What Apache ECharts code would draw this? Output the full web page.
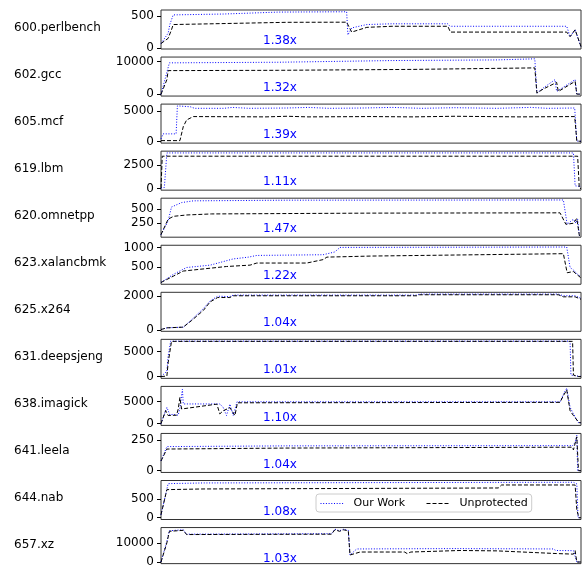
<!DOCTYPE html>
<html>
<head>
<meta charset="utf-8">
<script src="https://cdn.jsdelivr.net/npm/echarts@6/dist/echarts.min.js"></script>
<style>
  html, body { margin: 0; padding: 0; background: #fff; }
  #main { width: 585px; height: 568px; }
</style>
</head>
<body>
<div id="main"></div>
<script>
// benchmark names, speedup labels and y tick values per panel
var benchmarks = ['600.perlbench', '602.gcc', '605.mcf', '619.lbm', '620.omnetpp', '623.xalancbmk',
  '625.x264', '631.deepsjeng', '638.imagick', '641.leela', '644.nab', '657.xz'];
var speedups = ['1.38x', '1.32x', '1.39x', '1.11x', '1.47x', '1.22x', '1.04x', '1.01x', '1.10x', '1.04x', '1.08x', '1.03x'];
var yTicks = [[0, 500], [0, 10000], [0, 5000], [0, 2500], [250, 500], [500, 1000],
  [0, 2000], [0, 5000], [0, 5000], [0, 250], [0, 500], [0, 10000]];

// [time %, value]
var perlbenchOurs = [[0, 68], [1.7, 230], [2.1, 365], [2.9, 516], [15, 530], [28, 560], [44.2, 565], [44.5, 203], [45.4, 312], [49, 365], [55, 377], [68.3, 377], [68.8, 338], [96.6, 338], [97.4, 175], [98.6, 284], [100, 10]];
var perlbenchBase = [[0, 68], [1.7, 149], [2.5, 284], [2.9, 365], [30, 400], [44.2, 402], [45.4, 247], [49, 321], [55, 338], [68.3, 338], [68.9, 247], [96.6, 247], [97.4, 175], [98.6, 284], [100, 20]];
var gccOurs = [[0, 0], [0.4, 200], [2, 9600], [28, 9785], [55, 10300], [80, 10500], [89, 10830], [89.5, 370], [91, 1900], [93.8, 4460], [94.2, 860], [98.6, 4460], [99, 50], [100, 50]];
var gccBase = [[0, 0], [0.4, 100], [1.4, 4460], [1.7, 7230], [28, 7320], [60, 7600], [89, 8060], [89.5, 370], [91, 1600], [94.2, 3630], [94.6, 860], [98.6, 3940], [99, 50], [100, 50]];
var mcfOurs = [[0, 450], [0.5, 1270], [3.6, 1270], [3.9, 5850], [7, 5700], [8, 5450], [15, 5450], [17, 5600], [21, 5450], [30, 5500], [35, 5600], [40, 5450], [48, 5500], [55, 5600], [62, 5450], [70, 5550], [80, 5450], [88, 5600], [92, 5450], [98.5, 5500], [99, 100], [100, 50]];
var mcfBase = [[0, 165], [4.5, 165], [5.3, 2440], [6.1, 3550], [7.7, 4100], [25, 4050], [30, 4150], [35, 4050], [50, 4100], [60, 4050], [70, 4150], [85, 4050], [98.5, 4100], [99, 100], [100, 50]];
var lbmOurs = [[0, 50], [0.8, 100], [1.4, 3800], [98.2, 3800], [98.6, 275], [100, 200]];
var lbmBase = [[0, 50], [0.3, 3450], [99.2, 3450], [99.6, 0], [100, 0]];
var omnetppOurs = [[0, 54], [1.7, 291], [2.5, 530], [4.9, 607], [7.7, 637], [30, 648], [95.8, 652], [96.7, 232], [98.2, 321], [98.8, 250], [99.2, 321], [99.6, 40], [100, 40]];
var omnetppBase = [[0, 54], [1.7, 321], [3, 370], [6.1, 393], [12, 411], [50, 425], [95, 430], [96.4, 232], [98.2, 250], [99, 334], [99.6, 40], [100, 40]];
var xalancOurs = [[0, 100], [2.9, 305], [6.1, 484], [11.7, 545], [17.2, 705], [20.8, 750], [22.8, 794], [38.6, 812], [41.4, 884], [42.6, 1000], [96.6, 1010], [97.4, 484], [98.2, 420], [99.2, 305], [100, 250]];
var xalancBase = [[0, 100], [2.9, 260], [5.3, 393], [9.3, 439], [15.6, 510], [21.2, 545], [22.8, 599], [34.7, 599], [38.6, 687], [39.5, 751], [50, 778], [95.8, 839], [96.7, 350], [98.2, 380], [100, 217]];
var x264Ours = [[0, 20], [1.4, 119], [5.3, 160], [7.3, 600], [10.1, 1250], [11.7, 1700], [13.5, 1975], [16.4, 1950], [17.2, 2040], [60.9, 2040], [61.5, 2100], [94.6, 2100], [95.8, 2000], [98.6, 2000], [100, 1850]];
var x264Base = [[0, 20], [1.4, 119], [5.3, 160], [7.3, 551], [10.1, 1144], [11.7, 1642], [13.5, 1898], [16.4, 1898], [17.2, 2000], [60.9, 2000], [61.5, 2060], [94.6, 2060], [95.8, 1939], [98.6, 1939], [100, 1797]];
var deepsjengOurs = [[0, 0], [1.4, 1060], [1.7, 4060], [2.3, 7050], [97.4, 7050], [97.6, 300], [99.5, 50], [100, 50]];
var deepsjengBase = [[0, 0], [1.4, 100], [1.7, 2740], [2.5, 7000], [98, 7000], [98.2, 300], [99.5, 0], [100, 0]];
var imagickOurs = [[0, 0], [1.4, 3670], [2.1, 2000], [3, 2100], [4.1, 1900], [4.5, 3500], [5.1, 7740], [5.3, 4440], [14, 4440], [14.8, 3670], [15.6, 1830], [16.4, 4400], [17.2, 1830], [18.1, 4920], [95, 4920], [95.8, 6600], [96.6, 8000], [97.4, 3670], [98.2, 2200], [99.4, 220], [100, 200]];
var imagickBase = [[0, 0], [1.1, 2930], [1.7, 1830], [3.7, 1900], [4.1, 3300], [4.5, 5900], [4.9, 3300], [13.3, 4400], [14, 2200], [14.8, 2900], [16.4, 3600], [17.6, 1830], [18.2, 4700], [95, 4800], [95.8, 6300], [96.6, 7600], [97.4, 2900], [98.2, 1830], [99.5, 220], [100, 200]];
var leelaOurs = [[0, 79], [1.4, 197], [30, 203], [98, 205], [98.6, 230], [99, 290], [99.2, 0], [100, 0]];
var leelaBase = [[0, 79], [1.4, 177], [30, 185], [97.9, 192], [98.2, 170], [99, 277], [99.4, 0], [100, 0]];
var nabOurs = [[0, 80], [1.7, 908], [10, 926], [50, 935], [98.2, 944], [99, 900], [99.3, 0], [100, 0]];
var nabBase = [[0, 80], [1.4, 748], [10, 766], [80.3, 792], [81.1, 872], [98.6, 872], [99, 213], [99.5, 0], [100, 0]];
var xzOurs = [[0, 0], [1.4, 10800], [2, 16300], [5.3, 16800], [5.7, 17100], [6.1, 14500], [40.6, 14760], [41.4, 17100], [42.5, 16300], [43.5, 17100], [44.6, 16500], [45, 3650], [46.6, 6800], [70, 7000], [93.4, 6800], [94, 6000], [98.2, 5900], [98.6, 6000], [99, 0], [100, 0]];
var xzBase = [[0, 0], [1.4, 10000], [2, 16000], [5.3, 16500], [5.7, 16800], [6.1, 14300], [40.6, 14500], [41.4, 16800], [42.5, 16000], [43.5, 16800], [44.6, 16200], [45, 3650], [45.4, 4400], [47.4, 5200], [58, 5200], [58.6, 4400], [59.5, 5200], [71.2, 6000], [80, 5800], [94.2, 4400], [98.2, 4100], [98.6, 5900], [99, 0], [100, 0]];

var ourWork = [perlbenchOurs, gccOurs, mcfOurs, lbmOurs, omnetppOurs, xalancOurs, x264Ours, deepsjengOurs, imagickOurs, leelaOurs, nabOurs, xzOurs];
var unprotected = [perlbenchBase, gccBase, mcfBase, lbmBase, omnetppBase, xalancBase, x264Base, deepsjengBase, imagickBase, leelaBase, nabBase, xzBase];

var FONT = 'DejaVu Sans';
var TOP0 = 10, STEP = 47.05, H = 39;

// y limits like matplotlib autoscale: data range plus 5% on each side
function yRange(a, b) {
  var lo = Infinity, hi = -Infinity;
  a.concat(b).forEach(function (p) { lo = Math.min(lo, p[1]); hi = Math.max(hi, p[1]); });
  var pad = 0.05 * (hi - lo);
  return [lo - pad, hi + pad];
}

function build(legendTextPad) {
  var grids = [], xAxes = [], yAxes = [], series = [], texts = [];
  for (var i = 0; i < benchmarks.length; i++) {
    var top = TOP0 + STEP * i;
    var yr = yRange(ourWork[i], unprotected[i]);
    grids.push({ left: 161, width: 420, top: top, height: H, show: true, borderColor: '#333', borderWidth: 1 });
    xAxes.push({ type: 'value', gridIndex: i, min: 0, max: 100, show: false });
    yAxes.push({
      type: 'value', gridIndex: i, min: yr[0], max: yr[1],
      splitLine: { show: false }, axisLine: { show: false },
      axisTick: { show: true, length: 4, customValues: yTicks[i], lineStyle: { color: '#000' } },
      axisLabel: {
        customValues: yTicks[i], fontFamily: FONT, fontSize: 12, color: '#000', margin: 7,
        showMinLabel: true, showMaxLabel: true,
        formatter: function (v) { return String(v); }
      }
    });
    series.push({
      name: 'Our Work', type: 'line', xAxisIndex: i, yAxisIndex: i, data: ourWork[i], symbol: 'none',
      lineStyle: { color: '#0000ff', width: 1, type: [1, 1.7] }, itemStyle: { color: '#0000ff' }
    });
    series.push({
      name: 'Unprotected', type: 'line', xAxisIndex: i, yAxisIndex: i, data: unprotected[i], symbol: 'none',
      lineStyle: { color: '#000', width: 1, type: [4, 2] }, itemStyle: { color: '#000' }
    });
    texts.push({ type: 'text', x: 14, y: top + 17.5, style: { text: benchmarks[i], font: '12px "DejaVu Sans"', fill: '#000', verticalAlign: 'middle' } });
    texts.push({ type: 'text', x: 280, y: top + 31, style: { text: speedups[i], font: '12px "DejaVu Sans"', fill: '#0000ff', align: 'center', verticalAlign: 'middle' } });
  }
  var textStyle = { fontFamily: FONT, fontSize: 11, color: '#000' };
  if (legendTextPad) textStyle.padding = [0, 0, 0, 5];
  return {
    animation: false,
    backgroundColor: '#fff',
    grid: grids, xAxis: xAxes, yAxis: yAxes,
    legend: {
      data: ['Our Work', 'Unprotected'],
      left: 316, top: 494,
      padding: [4, 4, 3, 4],
      itemWidth: 23, itemHeight: 12, itemGap: legendTextPad ? 21 : 26,
      itemStyle: { opacity: 0 },
      lineStyle: { width: 1 },
      backgroundColor: 'rgba(255,255,255,0.85)',
      borderColor: '#ccc', borderWidth: 1, borderRadius: 3,
      textStyle: textStyle
    },
    graphic: texts,
    series: series
  };
}

var dom = document.getElementById('main');
try {
  echarts.init(dom).setOption(build(true));
} catch (e) {
  echarts.dispose(dom);
  echarts.init(dom).setOption(build(false));
}
</script>
</body>
</html>
